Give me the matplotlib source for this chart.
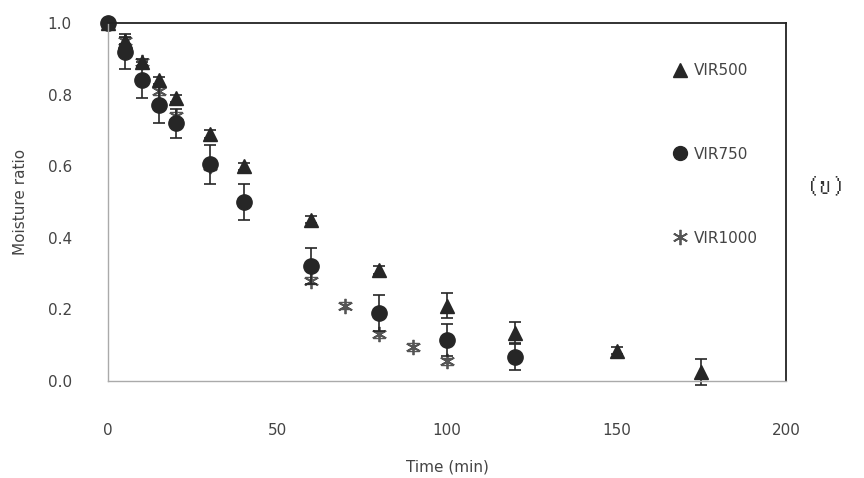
import matplotlib
matplotlib.use("Agg")
import matplotlib.pyplot as plt
from matplotlib import font_manager
from matplotlib.ft2font import FT2Font
from matplotlib.lines import Line2D

# drying curves: moisture ratio vs time
t_500 = [0, 5, 10, 15, 20, 30, 40, 60, 80, 100, 120, 150, 175]
mr_500 = [1.0, 0.95, 0.89, 0.84, 0.79, 0.69, 0.60, 0.45, 0.31, 0.21, 0.135, 0.085, 0.025]
err_500 = [0.0, 0.01, 0.01, 0.01, 0.01, 0.01, 0.01, 0.01, 0.01, 0.035, 0.03, 0.01, 0.035]

t_750 = [0, 5, 10, 15, 20, 30, 40, 60, 80, 100, 120]
mr_750 = [1.0, 0.92, 0.84, 0.77, 0.72, 0.605, 0.50, 0.32, 0.19, 0.115, 0.067]
err_750 = [0.0, 0.05, 0.05, 0.05, 0.04, 0.055, 0.05, 0.05, 0.05, 0.045, 0.035]

t_1000 = [0, 5, 10, 15, 20, 30, 40, 60, 70, 80, 90, 100]
mr_1000 = [1.0, 0.95, 0.89, 0.81, 0.74, 0.60, 0.50, 0.28, 0.21, 0.13, 0.095, 0.055]
err_1000 = [0.0, 0.01, 0.01, 0.01, 0.01, 0.01, 0.01, 0.01, 0.01, 0.01, 0.01, 0.01]

x_ticks = [0, 50, 100, 150, 200]
y_ticks = [0.0, 0.2, 0.4, 0.6, 0.8, 1.0]


def find_thai_font():
    for path in font_manager.findSystemFonts():
        try:
            if 0x0E02 in FT2Font(path).get_charmap():
                return font_manager.FontProperties(fname=path).get_name()
        except Exception:
            continue
    return "DejaVu Sans"


thai_font = find_thai_font()
plt.rcParams["font.family"] = ["DejaVu Sans"]

fig = plt.figure(figsize=(8.64, 4.78), dpi=100)
ax = fig.add_axes([0.125, 0.203, 0.785, 0.749])

dark = "#262626"
star_col = "#555555"
text_col = "#444444"

ax.errorbar(t_1000, mr_1000, yerr=err_1000, fmt="none", ecolor=star_col,
            capsize=4, elinewidth=1.0, capthick=1.0, clip_on=False)
ax.plot(t_1000, mr_1000, ls="none", marker=(6, 2, 0), color=star_col, ms=11,
        mew=1.3, clip_on=False)
ax.errorbar(t_750, mr_750, yerr=err_750, fmt="o", color=dark, ms=11,
            capsize=4, elinewidth=1.2, capthick=1.2, clip_on=False)
ax.errorbar(t_500, mr_500, yerr=err_500, fmt="^", color=dark, ms=10,
            capsize=4, elinewidth=1.2, capthick=1.2, clip_on=False)

ax.set_xlim(0, 200)
ax.set_ylim(0, 1.0)
ax.set_xticks(x_ticks)
ax.set_yticks(y_ticks)
ax.set_yticklabels([f"{v:.1f}" for v in y_ticks])
ax.tick_params(axis="both", length=0, labelsize=11, colors=text_col)
ax.tick_params(axis="y", pad=26)
ax.tick_params(axis="x", pad=30)

for side in ["left", "bottom"]:
    ax.spines[side].set_color("#aaaaaa")
    ax.spines[side].set_linewidth(1.0)
for side in ["top", "right"]:
    ax.spines[side].set_color("#222222")
    ax.spines[side].set_linewidth(1.3)

ax.set_xlabel("Time (min)", fontsize=11, color=text_col, labelpad=16)
ax.set_ylabel("Moisture ratio", fontsize=11, color=text_col, labelpad=14)

handles = [
    Line2D([], [], ls="none", marker="^", color=dark, ms=10),
    Line2D([], [], ls="none", marker="o", color=dark, ms=10),
    Line2D([], [], ls="none", marker=(6, 2, 0), color=star_col, ms=11, mew=1.3),
]
labels = ["VIR500", "VIR750", "VIR1000"]
leg = ax.legend(handles, labels, loc="upper left", bbox_to_anchor=(0.825, 0.905),
                frameon=False, fontsize=11, labelspacing=4.5, handlelength=0.8,
                handletextpad=0.5, borderaxespad=0)
for txt in leg.get_texts():
    txt.set_color(text_col)

fig.text(0.956, 0.612, "(\u0e02)", fontsize=19, family=[thai_font, "DejaVu Sans"],
         ha="center", va="center", color="#333333")

fig.savefig("out.png", dpi=100)
